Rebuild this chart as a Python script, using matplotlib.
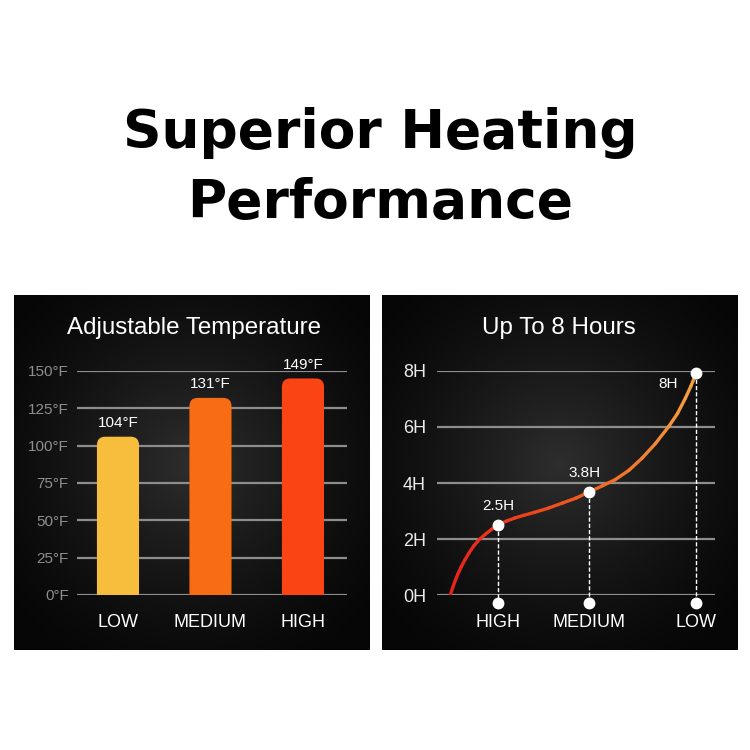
import numpy as np
import matplotlib.pyplot as plt
from matplotlib.patches import FancyBboxPatch
from matplotlib.collections import LineCollection
import matplotlib.colors as mcolors

plt.rcParams['font.family'] = ['Liberation Sans', 'DejaVu Sans']

# Data
temp_levels = ["LOW", "MEDIUM", "HIGH"]
temp_heights = [106, 132, 145]          # drawn bar heights
temp_labels = ["104°F", "131°F", "149°F"]
temp_colors = ["#f7bd3d", "#f86c14", "#fa4413"]
temp_ticks = [0, 25, 50, 75, 100, 125, 150]
temp_ticklabels = ["0°F", "25°F", "50°F", "75°F", "100°F", "125°F", "150°F"]

hour_levels = ["HIGH", "MEDIUM", "LOW"]
hour_x = [21.9, 54.7, 93.2]
hour_y = [2.5, 3.68, 7.92]
hour_labels = ["2.5H", "3.8H", "8H"]
hour_ticks = [0, 2, 4, 6, 8]
hour_ticklabels = ["0H", "2H", "4H", "6H", "8H"]
# curve
curve_x = [4.8, 5.6, 6.5, 7.5, 8.7, 10.0, 11.5, 13.2, 15.2, 17.5, 19.7, 21.9, 25.0,
           28.0, 31.0, 35.0, 40.0, 45.0, 50.0, 54.7, 59.5, 64.1, 69.0, 73.7, 78.5,
           83.3, 86.5, 89.3, 91.3, 93.2]
curve_y = [0.0, 0.25, 0.5, 0.75, 1.0, 1.25, 1.5, 1.75, 1.98, 2.18, 2.35, 2.5, 2.64,
           2.75, 2.84, 2.95, 3.1, 3.28, 3.46, 3.68, 3.9, 4.12, 4.45, 4.88, 5.4,
           6.01, 6.48, 7.02, 7.45, 7.92]

W = 750.0


def px_rect(x0, y0, x1, y1):
    return [x0 / W, 1 - y1 / W, (x1 - x0) / W, (y1 - y0) / W]


def panel_bg(rect):
    ax = fig.add_axes(rect, zorder=0)
    yy, xx = np.mgrid[-1:1:300j, -1:1:300j]
    r = np.sqrt(xx ** 2 + (yy + 0.05) ** 2)
    val = np.clip(1 - r / 1.35, 0, 1) ** 1.4
    cmap = mcolors.LinearSegmentedColormap.from_list("bg", ["#060606", "#2e2e2e"])
    ax.imshow(val, cmap=cmap, vmin=0, vmax=1, aspect='auto', extent=[0, 1, 0, 1])
    ax.set_axis_off()


fig = plt.figure(figsize=(7.5, 7.5), dpi=100)
fig.patch.set_facecolor("white")

fig.text(380 / W, 1 - 133 / W, "Superior Heating", ha='center', va='center',
         fontsize=38.5, fontweight='bold', family=['DejaVu Sans'])
fig.text(380 / W, 1 - 203 / W, "Performance", ha='center', va='center',
         fontsize=38.5, fontweight='bold', family=['DejaVu Sans'])

panel_bg(px_rect(14, 295, 370, 650))
panel_bg(px_rect(382, 295, 738, 650))

fig.text(194 / W, 1 - 328 / W, "Adjustable Temperature", ha='center', va='center',
         fontsize=17.4, color='white')
fig.text(559 / W, 1 - 328 / W, "Up To 8 Hours", ha='center', va='center',
         fontsize=17.4, color='white')

# Left chart
ax1 = fig.add_axes(px_rect(77, 371, 347, 595), zorder=1)
ax1.patch.set_alpha(0)
ax1.set_xlim(-0.443, 2.476)
ax1.set_ylim(0, 150)
for s in ax1.spines.values():
    s.set_visible(False)
for t in temp_ticks:
    ax1.axhline(t, color='#8d8d8d', lw=1.6, zorder=1)
ax1.set_yticks(temp_ticks)
ax1.set_yticklabels(temp_ticklabels, color='#8e8e8e', fontsize=11)
ax1.set_xticks(range(len(temp_levels)))
ax1.set_xticklabels(temp_levels, color='white', fontsize=13)
ax1.tick_params(length=0)
ax1.tick_params(axis='y', pad=6)
ax1.tick_params(axis='x', pad=14)

bw = 0.455
rad = 0.09
aspect = 92.5 / 1.493
for i, (h, c, lab) in enumerate(zip(temp_heights, temp_colors, temp_labels)):
    box = FancyBboxPatch((i - bw / 2, -20), bw, h + 20,
                         boxstyle="round,pad=0,rounding_size=%f" % rad,
                         mutation_aspect=aspect, fc=c, ec='none', zorder=2)
    ax1.add_patch(box)
    ax1.annotate(lab, (i, h), xytext=(0, 10), textcoords='offset points',
                 ha='center', va='center', color='white', fontsize=11, zorder=3)

# Right chart
ax2 = fig.add_axes(px_rect(437, 371, 715, 595), zorder=1)
ax2.patch.set_alpha(0)
ax2.set_xlim(0, 100)
ax2.set_ylim(0, 8)
for s in ax2.spines.values():
    s.set_visible(False)
for t in hour_ticks:
    ax2.axhline(t, color='#8d8d8d', lw=1.6, zorder=1)
ax2.set_yticks(hour_ticks)
ax2.set_yticklabels(hour_ticklabels, color='#ebebeb', fontsize=13)
ax2.set_xticks(hour_x)
ax2.set_xticklabels(hour_levels, color='white', fontsize=13)
ax2.tick_params(length=0)
ax2.tick_params(axis='y', pad=8)
ax2.tick_params(axis='x', pad=14)

pts = np.column_stack([curve_x, curve_y]).reshape(-1, 1, 2)
segs = np.concatenate([pts[:-1], pts[1:]], axis=1)
ccmap = mcolors.LinearSegmentedColormap.from_list("heat", ["#e8231a", "#f05a1e", "#f6a441"])
lc = LineCollection(segs, cmap=ccmap, norm=plt.Normalize(curve_x[0], curve_x[-1]),
                    lw=2.4, capstyle='round', joinstyle='round', zorder=3)
lc.set_array(np.array(curve_x[:-1]))
ax2.add_collection(lc)

bottom_y = -8 / 28.0
for x, y in zip(hour_x, hour_y):
    ax2.plot([x, x], [y, bottom_y], color='white', lw=1, ls=(0, (3, 1.5)),
             clip_on=False, zorder=2)
ax2.plot(hour_x, hour_y, 'o', color='white', ms=7.5, zorder=4, clip_on=False)
ax2.plot(hour_x, [bottom_y] * 3, 'o', color='white', ms=7.5, zorder=4, clip_on=False)

label_off = [(0, 14), (-3, 14), (-20, -8)]
for x, y, lab, off in zip(hour_x, hour_y, hour_labels, label_off):
    ax2.annotate(lab, (x, y), xytext=off, textcoords='offset points',
                 ha='center', va='center', color='white', fontsize=11, zorder=4)

fig.savefig("out.png", dpi=100, facecolor='white')
